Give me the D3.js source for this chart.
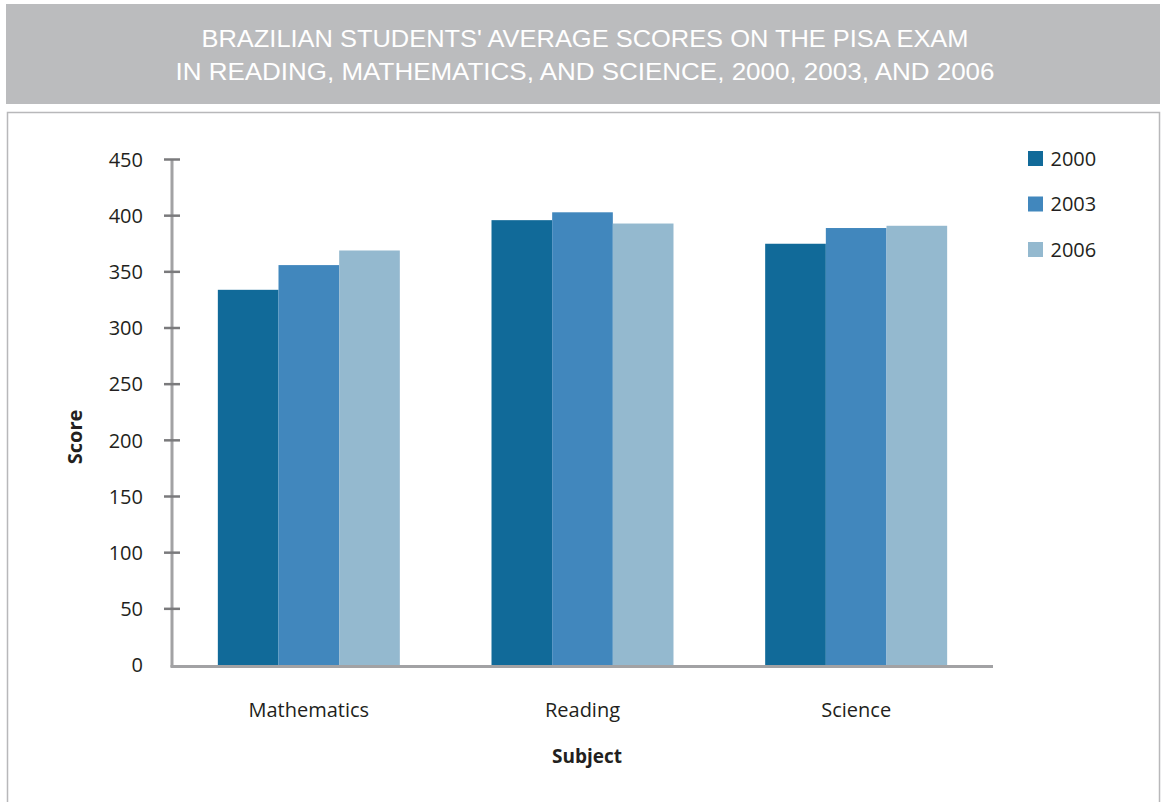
<!DOCTYPE html>
<html><head><meta charset="utf-8">
<script src="https://cdn.jsdelivr.net/npm/d3@7"></script>
<style>
html,body{margin:0;padding:0;background:#fff;}
svg{display:block;}
</style></head>
<body>
<svg id="chart" width="1164" height="802"></svg>
<script>
const titleLines = ["BRAZILIAN STUDENTS' AVERAGE SCORES ON THE PISA EXAM", "IN READING, MATHEMATICS, AND SCIENCE, 2000, 2003, AND 2006"];
const subjects = ["Mathematics", "Reading", "Science"];
const years = ["2000", "2003", "2006"];
const scores2000 = [334, 396, 375];
const scores2003 = [356, 403, 389];
const scores2006 = [369, 393, 391];
const yTicks = [0, 50, 100, 150, 200, 250, 300, 350, 400, 450];
const colors = ["#116a99", "#4187bd", "#94b9cf"];
const xTitle = "Subject";
const yTitle = "Score";

const series = [scores2000, scores2003, scores2006];
const svg = d3.select("#chart");
const font = "'Open Sans', 'Noto Sans', sans-serif";

// title banner
svg.append("rect").attr("x", 6).attr("y", 4).attr("width", 1154).attr("height", 100).attr("fill", "#bbbcbe");
const titleWidths = [767, 819];
svg.append("g").selectAll("text").data(titleLines).join("text")
  .attr("x", 585).attr("y", (d, i) => 47.3 + i * 32.7)
  .attr("text-anchor", "middle")
  .attr("font-family", "'Liberation Sans', Arial, sans-serif")
  .attr("font-size", 24)
  .attr("textLength", (d, i) => titleWidths[i])
  .attr("lengthAdjust", "spacingAndGlyphs")
  .attr("fill", "#fff")
  .text(d => d);

// chart box
svg.append("rect").attr("x", 7.5).attr("y", 112.5).attr("width", 1152).attr("height", 700)
  .attr("fill", "#fff").attr("stroke", "#b8b8ba").attr("stroke-width", 1.5);

const x0 = d3.scaleBand().domain(subjects).range([172, 993]).paddingInner(0.335).paddingOuter(0.1675);
const x1 = d3.scaleBand().domain(years).range([0, x0.bandwidth()]);
const y = d3.scaleLinear().domain([0, 450]).range([665, 159.5]);

// bars
const groups = svg.append("g").selectAll("g").data(subjects).join("g")
  .attr("transform", d => `translate(${x0(d)},0)`);
groups.selectAll("rect").data((d, i) => years.map((yr, j) => ({yr, j, v: series[j][i]}))).join("rect")
  .attr("x", d => x1(d.yr))
  .attr("y", d => y(d.v))
  .attr("width", x1.bandwidth())
  .attr("height", d => y(0) - y(d.v))
  .attr("fill", d => colors[d.j]);

// y axis
svg.append("line").attr("x1", 172).attr("x2", 172).attr("y1", 159).attr("y2", 667)
  .attr("stroke", "#a2a2a4").attr("stroke-width", 3);
svg.append("g").selectAll("line").data(yTicks.filter(t => t > 0)).join("line")
  .attr("x1", 164).attr("x2", 180).attr("y1", d => y(d)).attr("y2", d => y(d))
  .attr("stroke", "#7a7a7c").attr("stroke-width", 2.5);
svg.append("g").selectAll("text").data(yTicks).join("text")
  .attr("x", 143).attr("y", d => y(d)).attr("dy", "0.36em")
  .attr("text-anchor", "end").attr("font-family", font).attr("font-size", 20).attr("fill", "#231f20")
  .text(d => d);

// x axis
svg.append("line").attr("x1", 170.5).attr("x2", 993).attr("y1", 666.5).attr("y2", 666.5)
  .attr("stroke", "#a2a2a4").attr("stroke-width", 3);
svg.append("g").selectAll("text").data(subjects).join("text")
  .attr("x", d => x0(d) + x0.bandwidth() / 2).attr("y", 717)
  .attr("text-anchor", "middle").attr("font-family", font).attr("font-size", 20).attr("fill", "#231f20")
  .text(d => d);

// axis titles
svg.append("text").attr("x", 587).attr("y", 763).attr("text-anchor", "middle")
  .attr("font-family", font).attr("font-size", 19).attr("font-weight", "bold").attr("fill", "#231f20")
  .text(xTitle);
svg.append("text").attr("transform", "translate(82,437) rotate(-90)").attr("text-anchor", "middle")
  .attr("font-family", font).attr("font-size", 20).attr("font-weight", "bold").attr("fill", "#231f20")
  .text(yTitle);

// legend
const leg = svg.append("g").selectAll("g").data(years).join("g")
  .attr("transform", (d, i) => `translate(1028,${151 + i * 45.5})`);
leg.append("rect").attr("width", 15).attr("height", 15).attr("fill", (d, i) => colors[i]);
leg.append("text").attr("x", 22.5).attr("y", 7.5).attr("dy", "0.36em")
  .attr("font-family", font).attr("font-size", 20).attr("fill", "#231f20").text(d => d);
</script>
</body></html>
